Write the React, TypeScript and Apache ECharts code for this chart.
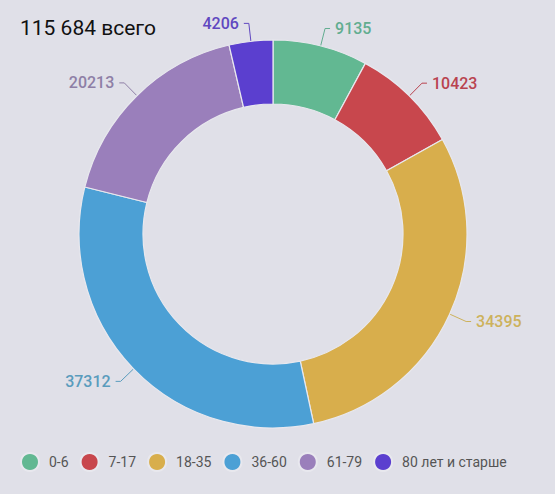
import React, { useEffect, useRef } from "react";
import * as echarts from "echarts";

const categories = ["0-6", "7-17", "18-35", "36-60", "61-79", "80 лет и старше"];
const values = [9135, 10423, 34395, 37312, 20213, 4206];
const colors = ["#62b892", "#c8474d", "#d8ae4c", "#4ca0d5", "#9a7fbb", "#5b3fcf"];
const labelColors = ["#62ad90", "#b9434f", "#cdb25c", "#5a9cbd", "#8e7fa6", "#6048c0"];
const titleText = "115 684 всего";

export default function App() {
  const ref = useRef<HTMLDivElement>(null);
  useEffect(() => {
    if (!ref.current) return;
    const chart = echarts.init(ref.current, null, { renderer: "svg" });
    chart.setOption({
      animation: false,
      backgroundColor: "#e0e0e8",
      title: {
        text: titleText,
        left: 15,
        top: 12,
        textStyle: { fontSize: 21, fontWeight: "normal", color: "#111", fontFamily: "Roboto" },
      },
      legend: {
        bottom: 17,
        left: 15,
        icon: "circle",
        itemWidth: 18,
        itemHeight: 18,
        itemGap: 11,
        textStyle: { fontSize: 14, color: "#555", fontFamily: "Roboto", padding: [0, 0, 0, 5] },
        data: categories,
      },
      series: [
        {
          type: "pie",
          center: [273, 234],
          radius: [130, 194],
          startAngle: 90,
          clockwise: true,
          avoidLabelOverlap: true,
          itemStyle: { borderColor: "#e8e8ee", borderWidth: 1.2 },
          label: {
            show: true,
            formatter: "{c}",
            fontSize: 16,
            fontWeight: 500,
            fontFamily: "Roboto",
          },
          labelLine: { show: true, length: 18, length2: 5, lineStyle: { width: 1 } },
          data: categories.map((c, i) => ({
            name: c,
            value: values[i],
            itemStyle: { color: colors[i] },
            label: { color: labelColors[i] },
            labelLine: { lineStyle: { color: labelColors[i] } },
          })),
        },
      ],
    });
    return () => chart.dispose();
  }, []);
  return <div ref={ref} style={{ position: "fixed", left: 0, top: 0, width: 555, height: 494 }} />;
}
